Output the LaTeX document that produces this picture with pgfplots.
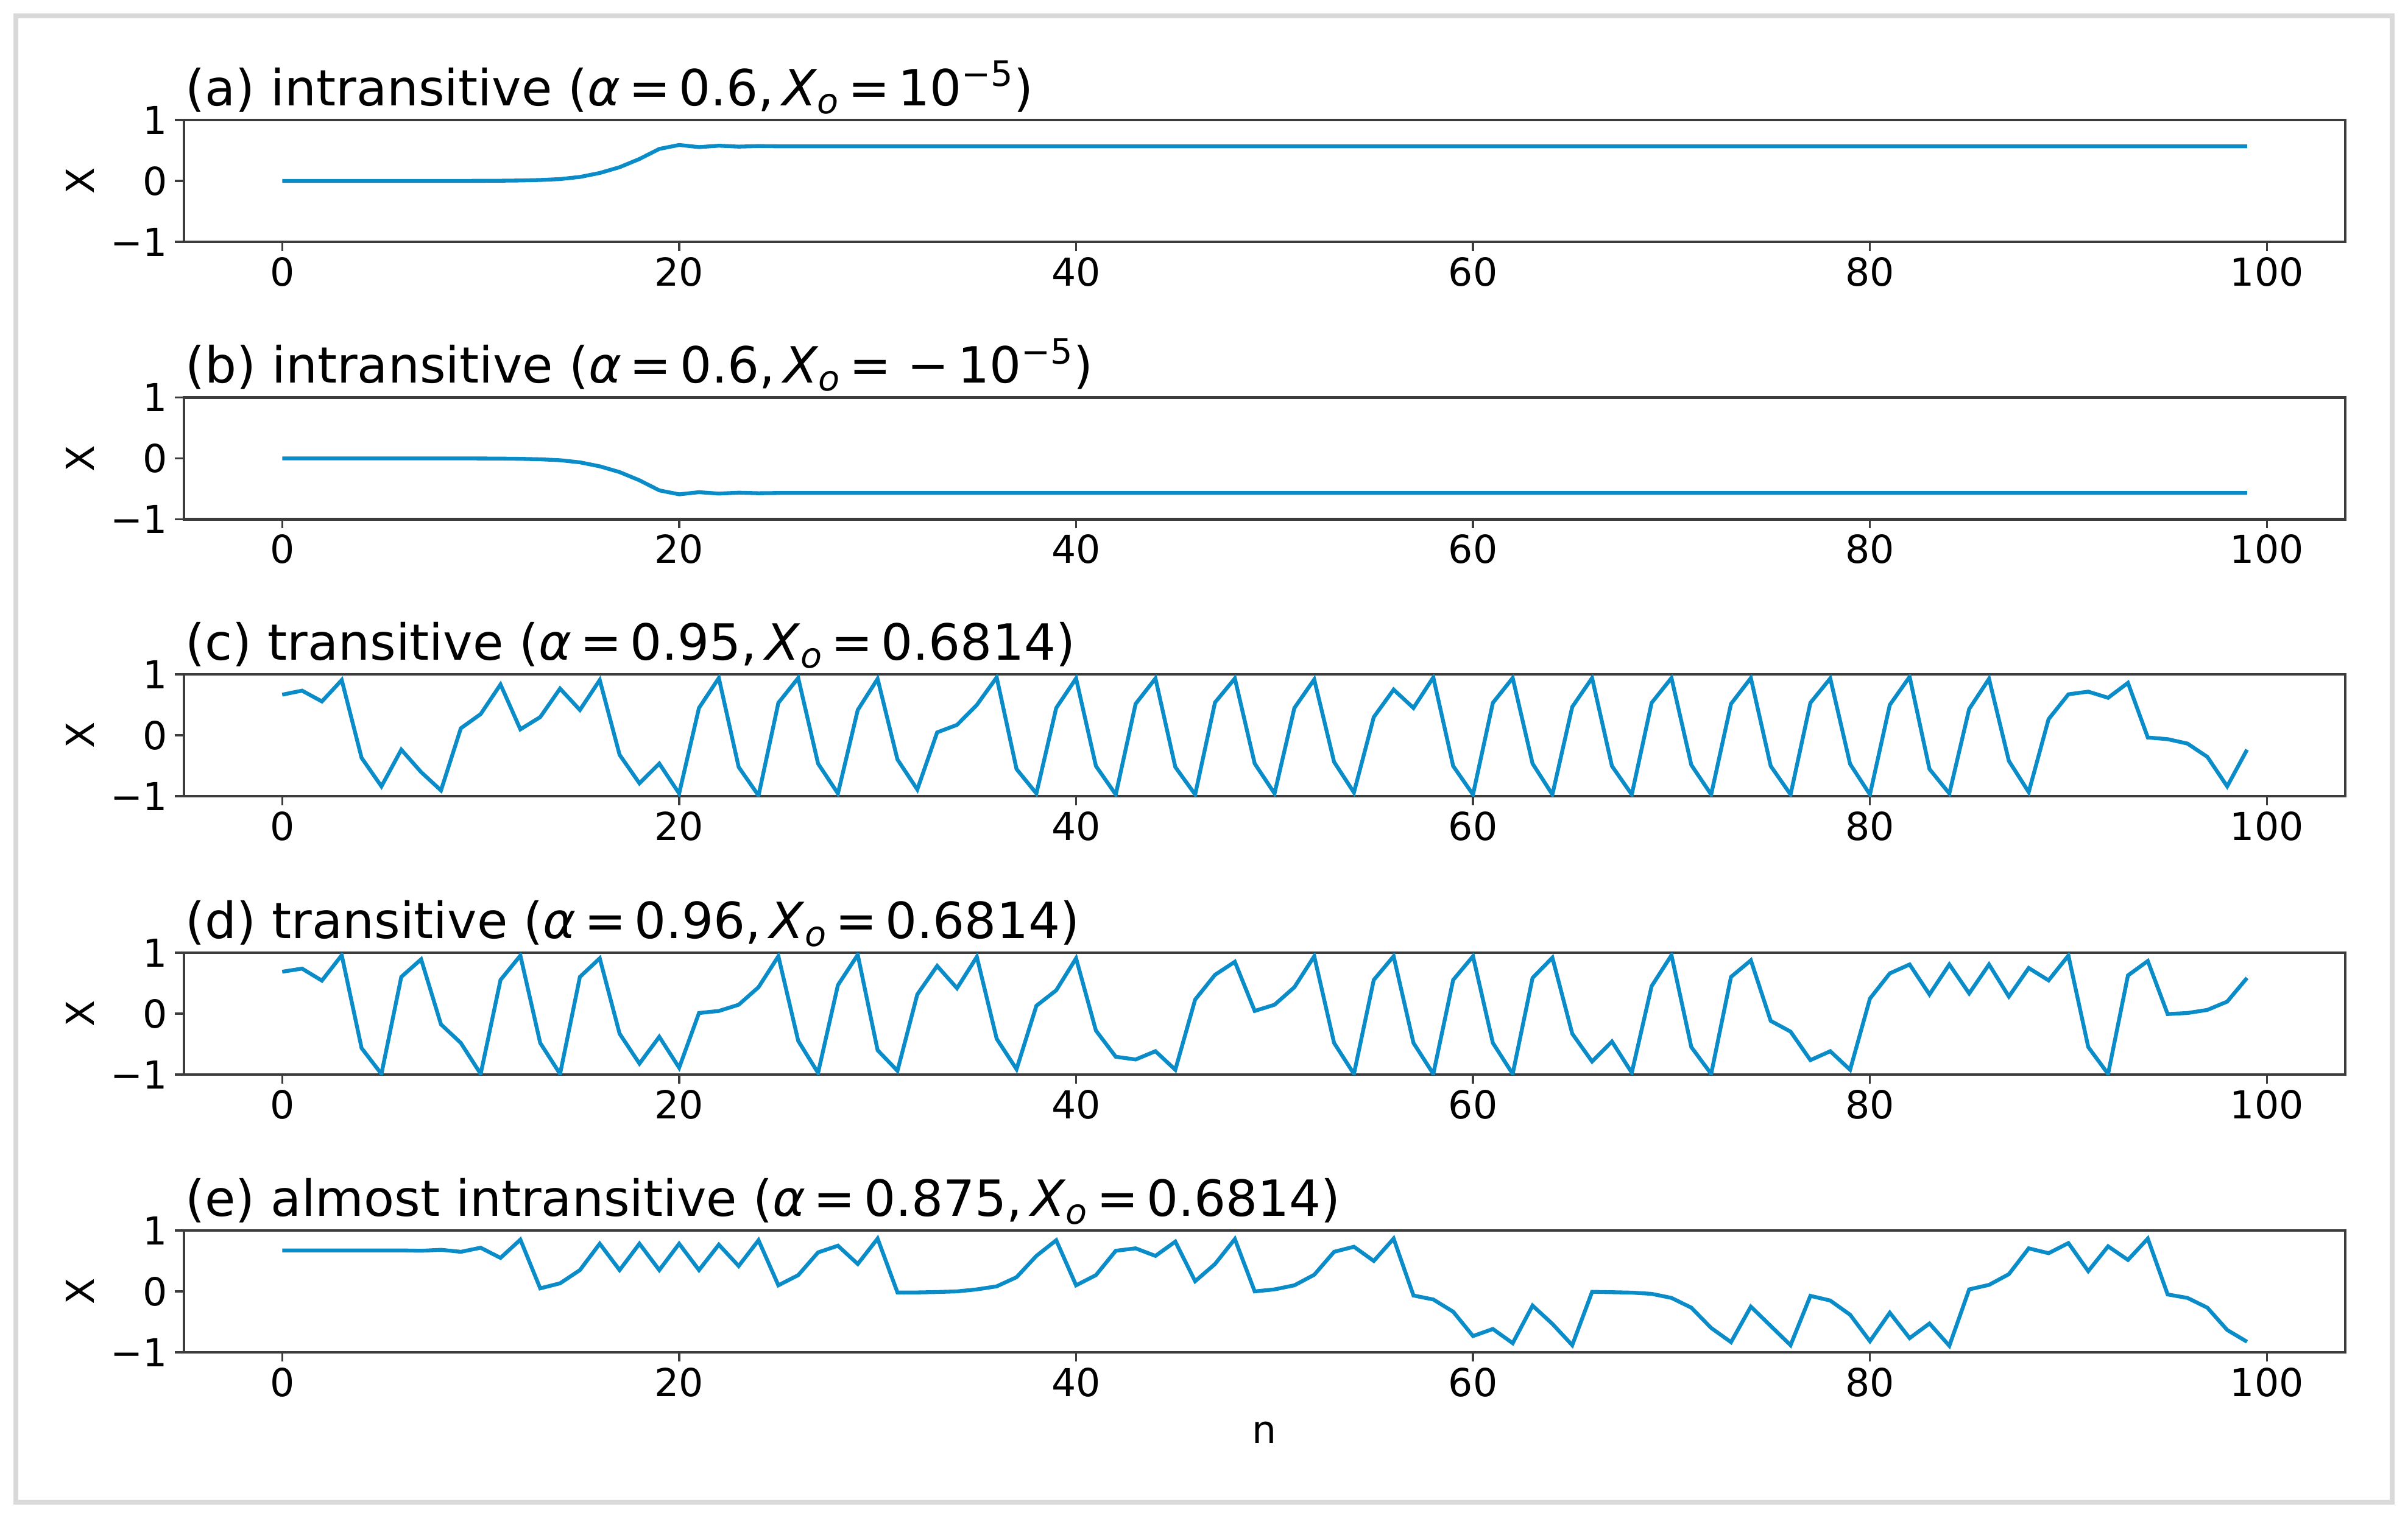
\documentclass[border=0pt]{standalone}
\usepackage{fontspec}
\setmainfont{DejaVu Sans}
\usepackage{pgfplots}
\pgfplotsset{compat=1.18}
\definecolor{lineblue}{RGB}{10,140,200}
\definecolor{spine}{RGB}{60,60,60}
\pgfplotsset{
  panel/.style={
    scale only axis, width=35.48cm, height=2.0cm,
    xmin=-4.95, xmax=103.95, ymin=-1, ymax=1,
    xtick={0,20,40,60,80,100}, xticklabels={0,20,40,60,80,100},
    ytick={-1,0,1}, yticklabels={−1,0,1},
    tick align=outside, major tick length=0.15cm,
    tick style={spine, line width=1pt},
    axis line style={spine, line width=1.2pt},
    xtick pos=bottom, ytick pos=left,
    ticklabel style={font=\fontsize{18pt}{21pt}\selectfont},
    xticklabel style={yshift=0.02cm},
    ylabel={X},
    ylabel style={at={(axis description cs:-0.048,0.5)}, anchor=center, font=\fontsize{18pt}{21pt}\selectfont},
    title style={at={(axis description cs:0,1)}, anchor=south west, inner sep=0pt, xshift=0.02cm, yshift=-0.12cm, font=\fontsize{23.3pt}{27pt}\selectfont},
    cycle list={{lineblue, line width=1.8pt, line join=round}},
    every axis plot post/.append style={lineblue, line width=1.8pt, mark=none},
  }
}
\begin{document}
\begin{tikzpicture}
\path (0,0) rectangle (39.53cm,-24.92cm);
\draw[line width=0.08cm, color=black!15] (0.26cm,-0.26cm) rectangle (39.27cm,-24.66cm);

\begin{axis}[panel, at={(3.02cm,-1.97cm)}, anchor=north west,
  title={(a) intransitive (\textit{α}\,=\,0.6,\,\textit{X}\textsubscript{\textit{o}}\,=\,10\textsuperscript{−5})}]
\addplot coordinates {(0,0) (1,0) (2,0) (3,0) (4,0) (5,0) (6,0) (7,0) (8,0) (9,0.0005) (10,0.001) (11,0.003) (12,0.007) (13,0.015) (14,0.03) (15,0.065) (16,0.13) (17,0.225) (18,0.36) (19,0.525) (20,0.59) (21,0.555) (22,0.578) (23,0.563) (24,0.572) (25,0.568) (30,0.568) (40,0.568) (50,0.568) (60,0.568) (70,0.568) (80,0.568) (90,0.568) (99,0.568)};
\end{axis}

\begin{axis}[panel, at={(3.02cm,-6.525cm)}, anchor=north west,
  title={(b) intransitive (\textit{α}\,=\,0.6,\,\textit{X}\textsubscript{\textit{o}}\,=\,\,−\,10\textsuperscript{−5})}]
\addplot coordinates {(0,0) (1,0) (2,0) (3,0) (4,0) (5,0) (6,0) (7,0) (8,0) (9,-0.0005) (10,-0.001) (11,-0.003) (12,-0.007) (13,-0.015) (14,-0.03) (15,-0.065) (16,-0.13) (17,-0.225) (18,-0.36) (19,-0.525) (20,-0.59) (21,-0.555) (22,-0.578) (23,-0.563) (24,-0.572) (25,-0.568) (30,-0.568) (40,-0.568) (50,-0.568) (60,-0.568) (70,-0.568) (80,-0.568) (90,-0.568) (99,-0.568)};
\end{axis}

\begin{axis}[panel, at={(3.02cm,-11.07cm)}, anchor=north west,
  title={(c) transitive (\textit{α}\,=\,0.95,\,\textit{X}\textsubscript{\textit{o}}\,=\,0.6814)}]
\addplot coordinates {(0,0.666) (1,0.732) (2,0.555) (3,0.906) (4,-0.371) (5,-0.839) (6,-0.237) (7,-0.605) (8,-0.906) (9,0.114) (10,0.348) (11,0.833) (12,0.097) (13,0.298) (14,0.766) (15,0.415) (16,0.906) (17,-0.321) (18,-0.789) (19,-0.465) (20,-0.956) (21,0.448) (22,0.94) (23,-0.522) (24,-0.99) (25,0.532) (26,0.94) (27,-0.465) (28,-0.956) (29,0.415) (30,0.926) (31,-0.398) (32,-0.89) (33,0.047) (34,0.17) (35,0.498) (36,0.95) (37,-0.555) (38,-0.956) (39,0.448) (40,0.933) (41,-0.505) (42,-0.973) (43,0.515) (44,0.933) (45,-0.522) (46,-0.973) (47,0.538) (48,0.933) (49,-0.465) (50,-0.956) (51,0.448) (52,0.916) (53,-0.438) (54,-0.94) (55,0.298) (56,0.749) (57,0.448) (58,0.95) (59,-0.505) (60,-0.973) (61,0.532) (62,0.94) (63,-0.465) (64,-0.973) (65,0.465) (66,0.94) (67,-0.505) (68,-0.973) (69,0.532) (70,0.94) (71,-0.488) (72,-0.973) (73,0.515) (74,0.94) (75,-0.505) (76,-0.973) (77,0.532) (78,0.933) (79,-0.472) (80,-0.973) (81,0.498) (82,0.96) (83,-0.555) (84,-0.956) (85,0.431) (86,0.926) (87,-0.421) (88,-0.933) (89,0.264) (90,0.672) (91,0.716) (92,0.615) (93,0.86) (94,-0.037) (95,-0.064) (96,-0.137) (97,-0.355) (98,-0.839) (99,-0.237)};
\end{axis}

\begin{axis}[panel, at={(3.02cm,-15.64cm)}, anchor=north west,
  title={(d) transitive (\textit{α}\,=\,0.96,\,\textit{X}\textsubscript{\textit{o}}\,=\,0.6814)}]
\addplot coordinates {(0,0.688) (1,0.739) (2,0.542) (3,0.959) (4,-0.566) (5,-0.99) (6,0.603) (7,0.892) (8,-0.176) (9,-0.481) (10,-0.99) (11,0.553) (12,0.953) (13,-0.481) (14,-0.99) (15,0.603) (16,0.908) (17,-0.329) (18,-0.82) (19,-0.38) (20,-0.888) (21,0.01) (22,0.044) (23,0.146) (24,0.434) (25,0.942) (26,-0.447) (27,-0.973) (28,0.468) (29,0.966) (30,-0.6) (31,-0.939) (32,0.315) (33,0.783) (34,0.417) (35,0.932) (36,-0.413) (37,-0.912) (38,0.129) (39,0.383) (40,0.908) (41,-0.278) (42,-0.708) (43,-0.753) (44,-0.617) (45,-0.922) (46,0.231) (47,0.637) (48,0.851) (49,0.044) (50,0.146) (51,0.434) (52,0.942) (53,-0.481) (54,-0.99) (55,0.553) (56,0.942) (57,-0.481) (58,-0.99) (59,0.553) (60,0.942) (61,-0.481) (62,-0.99) (63,0.586) (64,0.919) (65,-0.329) (66,-0.786) (67,-0.458) (68,-0.97) (69,0.451) (70,0.959) (71,-0.549) (72,-0.99) (73,0.603) (74,0.875) (75,-0.119) (76,-0.295) (77,-0.763) (78,-0.617) (79,-0.922) (80,0.247) (81,0.661) (82,0.807) (83,0.315) (84,0.807) (85,0.332) (86,0.807) (87,0.281) (88,0.749) (89,0.546) (90,0.953) (91,-0.549) (92,-0.99) (93,0.627) (94,0.864) (95,-0.007) (96,0.01) (97,0.061) (98,0.197) (99,0.586)};
\end{axis}

\begin{axis}[panel, at={(3.02cm,-20.20cm)}, anchor=north west,
  title={(e) almost intransitive (\textit{α}\,=\,0.875,\,\textit{X}\textsubscript{\textit{o}}\,=\,0.6814)},
  xlabel={n}, xlabel style={at={(axis description cs:0.5,-0.66)}, anchor=center, font=\fontsize{18pt}{21pt}\selectfont}]
\addplot coordinates {(0,0.673) (1,0.673) (2,0.673) (3,0.673) (4,0.673) (5,0.673) (6,0.673) (7,0.667) (8,0.683) (9,0.65) (10,0.717) (11,0.55) (12,0.85) (13,0.05) (14,0.133) (15,0.35) (16,0.783) (17,0.35) (18,0.783) (19,0.35) (20,0.783) (21,0.35) (22,0.767) (23,0.417) (24,0.84) (25,0.1) (26,0.267) (27,0.64) (28,0.75) (29,0.45) (30,0.867) (31,-0.017) (32,-0.017) (33,-0.01) (34,0.0) (35,0.033) (36,0.083) (37,0.233) (38,0.583) (39,0.84) (40,0.1) (41,0.267) (42,0.667) (43,0.707) (44,0.583) (45,0.817) (46,0.167) (47,0.45) (48,0.86) (49,0.0) (50,0.033) (51,0.1) (52,0.273) (53,0.65) (54,0.733) (55,0.5) (56,0.867) (57,-0.067) (58,-0.133) (59,-0.333) (60,-0.733) (61,-0.617) (62,-0.85) (63,-0.233) (64,-0.533) (65,-0.883) (66,-0.007) (67,-0.013) (68,-0.02) (69,-0.04) (70,-0.107) (71,-0.267) (72,-0.6) (73,-0.833) (74,-0.25) (75,-0.567) (76,-0.883) (77,-0.073) (78,-0.15) (79,-0.383) (80,-0.817) (81,-0.35) (82,-0.767) (83,-0.527) (84,-0.893) (85,0.033) (86,0.107) (87,0.283) (88,0.707) (89,0.627) (90,0.793) (91,0.333) (92,0.74) (93,0.517) (94,0.867) (95,-0.05) (96,-0.107) (97,-0.267) (98,-0.633) (99,-0.827)};
\end{axis}
\end{tikzpicture}
\end{document}
